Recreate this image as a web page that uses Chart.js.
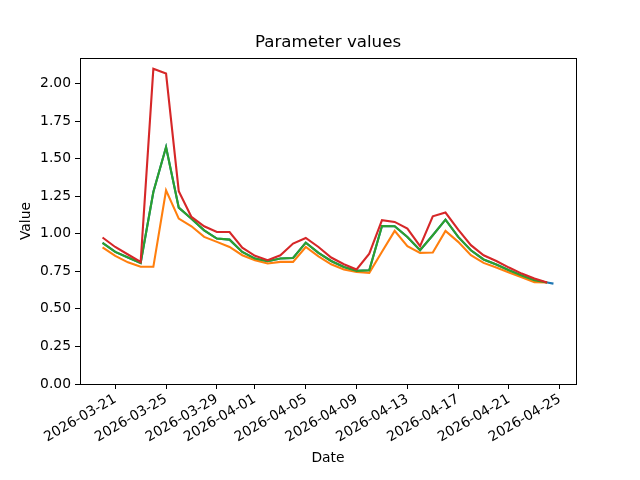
<!DOCTYPE html>
<html>
<head>
<meta charset="utf-8">
<script src="https://cdn.jsdelivr.net/npm/chart.js@4.4.1/dist/chart.umd.min.js"></script>
<style>
  html, body { margin: 0; padding: 0; background: #fff; }
  canvas { display: block; }
</style>
</head>
<body>
<canvas id="chart" width="640" height="480"></canvas>
<script>
// -------------------------------------
// Datos
// -------------------------------------
const fechas = [
  "2026-03-20", "2026-03-21", "2026-03-22", "2026-03-23", "2026-03-24", "2026-03-25",
  "2026-03-26", "2026-03-27", "2026-03-28", "2026-03-29", "2026-03-30", "2026-03-31",
  "2026-04-01", "2026-04-02", "2026-04-03", "2026-04-04", "2026-04-05", "2026-04-06",
  "2026-04-07", "2026-04-08", "2026-04-09", "2026-04-10", "2026-04-11", "2026-04-12",
  "2026-04-13", "2026-04-14", "2026-04-15", "2026-04-16", "2026-04-17", "2026-04-18",
  "2026-04-19", "2026-04-20", "2026-04-21", "2026-04-22", "2026-04-23", "2026-04-24"
];
const fechasAzul = fechas.concat(["2026-04-24T12:00"]);

const serieRoja = [
  0.975, 0.912, 0.862, 0.812, 2.098, 2.066, 1.284, 1.112, 1.050, 1.012, 1.012, 0.908,
  0.853, 0.824, 0.857, 0.935, 0.972, 0.912, 0.842, 0.797, 0.762, 0.868, 1.090, 1.079,
  1.034, 0.917, 1.116, 1.141, 1.028, 0.924, 0.857, 0.819, 0.775, 0.735, 0.702, 0.676
];
const serieVerde = [
  0.939, 0.879, 0.842, 0.806, 1.278, 1.577, 1.174, 1.100, 1.023, 0.968, 0.961, 0.879,
  0.835, 0.817, 0.835, 0.839, 0.941, 0.873, 0.819, 0.779, 0.753, 0.757, 1.052, 1.050,
  0.979, 0.890, 0.990, 1.094, 0.979, 0.890, 0.829, 0.795, 0.757, 0.722, 0.691, 0.676
];
const serieNaranja = [
  0.910, 0.853, 0.810, 0.780, 0.780, 1.289, 1.101, 1.050, 0.979, 0.946, 0.912, 0.857,
  0.824, 0.802, 0.813, 0.813, 0.912, 0.850, 0.797, 0.762, 0.746, 0.740, 0.880, 1.019,
  0.917, 0.873, 0.875, 1.019, 0.946, 0.857, 0.806, 0.775, 0.742, 0.711, 0.678, 0.676
];
const serieAzul = [
  0.939, 0.879, 0.842, 0.806, 1.278, 1.577, 1.174, 1.100, 1.023, 0.968, 0.961, 0.879,
  0.835, 0.817, 0.835, 0.839, 0.941, 0.873, 0.819, 0.779, 0.753, 0.757, 1.052, 1.050,
  0.979, 0.890, 0.990, 1.094, 0.979, 0.890, 0.829, 0.795, 0.757, 0.722, 0.691, 0.676,
  0.668
];

const ticksFechas = [
  "2026-03-21", "2026-03-25", "2026-03-29", "2026-04-01", "2026-04-05",
  "2026-04-09", "2026-04-13", "2026-04-17", "2026-04-21", "2026-04-25"
];
const ticksValor = [0, 0.25, 0.5, 0.75, 1.0, 1.25, 1.5, 1.75, 2.0];

const titulo = "Parameter values";

// -------------------------------------
// Helpers
// -------------------------------------
const BASE = Date.parse("2026-03-20T00:00Z");
const aDias = (s) => (Date.parse((s.length > 10 ? s : s + "T00:00") + "Z") - BASE) / 86400000;
const puntos = (xs, ys) => ys.map((y, i) => ({ x: aDias(xs[i]), y: y }));

const FUENTE = "'DejaVu Sans', sans-serif";

// marco del área + título centrado sobre el área de trazado
const marco = {
  id: "marco",
  afterDraw(chart) {
    const { ctx, chartArea: a } = chart;
    ctx.save();
    ctx.strokeStyle = "#000";
    ctx.lineWidth = 1;
    ctx.strokeRect(Math.round(a.left) + 0.5, Math.round(a.top) + 0.5,
      Math.round(a.right - a.left), Math.round(a.bottom - a.top));
    ctx.fillStyle = "#000";
    ctx.font = "16.67px " + FUENTE;
    ctx.textAlign = "center";
    ctx.textBaseline = "middle";
    ctx.fillText(titulo, (a.left + a.right) / 2, 43);
    ctx.restore();
  }
};

const linea = (label, data, color, order) => ({
  label, data, borderColor: color, backgroundColor: color,
  borderWidth: 2.1, pointRadius: 0, tension: 0, fill: false, order
});

new Chart(document.getElementById("chart"), {
  type: "line",
  data: {
    datasets: [
      linea("azul", puntos(fechasAzul, serieAzul), "#1f77b4", 4),
      linea("naranja", puntos(fechas, serieNaranja), "#ff7f0e", 3),
      linea("verde", puntos(fechas, serieVerde), "#2ca02c", 2),
      linea("rojo", puntos(fechas, serieRoja), "#d62728", 1)
    ]
  },
  options: {
    responsive: false,
    animation: false,
    layout: { padding: { left: 0, top: 58, right: 64, bottom: 0 } },
    plugins: {
      legend: { display: false },
      tooltip: { enabled: false },
      title: { display: false }
    },
    scales: {
      x: {
        type: "linear",
        min: -1.775,
        max: 37.275,
        afterBuildTicks: (s) => { s.ticks = ticksFechas.map(f => ({ value: aDias(f) })); },
        afterFit: (s) => { s.height = 96; },
        grid: { drawOnChartArea: false, drawTicks: true, tickLength: 5, tickColor: "#000" },
        border: { display: true, color: "#000" },
        ticks: {
          autoSkip: false,
          minRotation: 30,
          maxRotation: 30,
          padding: 2,
          color: "#000",
          font: { family: FUENTE, size: 13.89 },
          callback: (v) => {
            const i = ticksFechas.findIndex(f => aDias(f) === v);
            return i >= 0 ? ticksFechas[i] : "";
          }
        },
        title: {
          display: true,
          text: "Date",
          color: "#000",
          font: { family: FUENTE, size: 13.89 },
          padding: { top: 0, bottom: 13 }
        }
      },
      y: {
        min: 0,
        max: 2.17,
        afterBuildTicks: (s) => { s.ticks = ticksValor.map(v => ({ value: v })); },
        afterFit: (s) => { s.width = 80; },
        grid: { drawOnChartArea: false, drawTicks: true, tickLength: 5, tickColor: "#000" },
        border: { display: true, color: "#000" },
        ticks: {
          padding: 4,
          color: "#000",
          font: { family: FUENTE, size: 13.89 },
          callback: (v) => Number(v).toFixed(2)
        },
        title: {
          display: true,
          text: "Value",
          color: "#000",
          font: { family: FUENTE, size: 13.89 },
          padding: { top: 18, bottom: 0 }
        }
      }
    }
  },
  plugins: [marco]
});
</script>
</body>
</html>
